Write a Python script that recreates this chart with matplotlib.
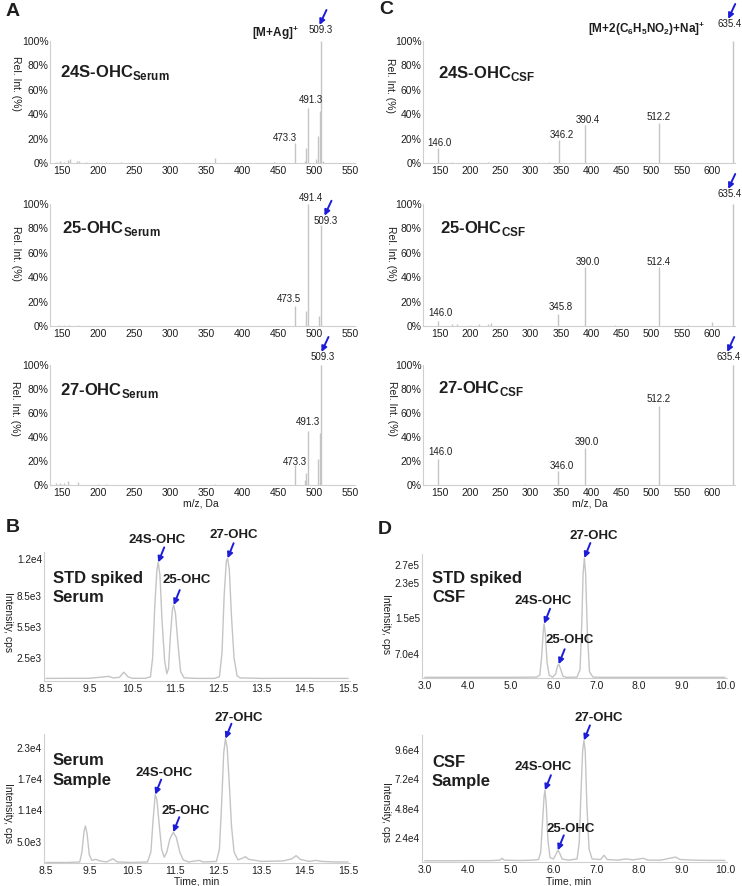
import matplotlib.pyplot as plt
from matplotlib.ticker import FuncFormatter, FixedFormatter

plt.rcParams['font.family'] = ['Liberation Sans', 'DejaVu Sans']
plt.rcParams['mathtext.fontset'] = 'custom'
plt.rcParams['mathtext.rm'] = 'Liberation Sans'
plt.rcParams['mathtext.bf'] = 'Liberation Sans:bold'

# ---------------- MS spectra (A, C): m/z and relative intensity (%) ----------------
mz_24s_serum = [142, 147, 152, 158, 161, 171, 174, 183, 198, 211, 232, 362, 445,
                473.3, 487.5, 489.5, 491.3, 503.3, 505.3, 507.8, 509.3, 512]
ri_24s_serum = [1.0, 1.5, 1.0, 2.5, 3.5, 1.5, 2.0, 1.0, 0.8, 1.0, 0.6, 4.0, 0.5,
                16, 2, 12, 45, 3, 22, 43, 100, 2]
lab_24s_serum = [473.3, 491.3, 509.3]

mz_25_serum = [145, 152, 160, 172, 473.5, 489.4, 491.4, 507.5, 509.3]
ri_25_serum = [1.0, 0.8, 1.2, 0.8, 16, 12, 100, 8, 83]
lab_25_serum = [473.5, 491.4, 509.3]

mz_27_serum = [142, 147, 153, 158, 172, 200, 211, 362, 473.3, 487.5, 489.5, 491.3,
               505.3, 507.8, 509.3]
ri_27_serum = [1.5, 2.0, 1.5, 3.0, 2.5, 1.0, 0.8, 1.0, 17, 4, 10, 45, 22, 43, 100]
lab_27_serum = [473.3, 491.3, 509.3]

mz_24s_csf = [146.0, 170, 230, 330, 346.2, 390.4, 512.2, 635.4]
ri_24s_csf = [12, 1, 1, 1, 19, 31, 33, 100]
lab_24s_csf = [146.0, 346.2, 390.4, 512.2, 635.4]

mz_25_csf = [146.0, 170, 178, 200, 215, 230, 235, 300, 345.8, 390.0, 440, 512.4,
             560, 600, 635.4]
ri_25_csf = [4, 2, 1.5, 1, 1.5, 2, 2.5, 1, 10, 48, 1, 48, 1, 3, 100]
lab_25_csf = [146.0, 345.8, 390.0, 512.4, 635.4]

mz_27_csf = [146.0, 290, 346.0, 390.0, 512.2, 635.4]
ri_27_csf = [22, 1, 12, 31, 66, 100]
lab_27_csf = [146.0, 346.0, 390.0, 512.2, 635.4]

# ---------------- chromatograms (B, D): time (min) and intensity (cps) ----------------
t_std_serum = [8.5, 9.0, 9.5, 9.85, 9.95, 10.05, 10.2, 10.3, 10.4, 10.5, 10.8, 10.92,
               10.97, 11.02, 11.07, 11.1, 11.14, 11.19, 11.25, 11.3, 11.34, 11.38, 11.43,
               11.46, 11.5, 11.56, 11.62, 11.7, 12.0, 12.4, 12.52, 12.58, 12.63, 12.68,
               12.71, 12.75, 12.8, 12.86, 12.93, 13.0, 13.5, 14.0, 14.5, 15.0, 15.5]
i_std_serum = [550, 560, 560, 700, 750, 600, 650, 1150, 700, 560, 560, 700,
               2500, 7500, 11000, 11700, 10500, 6000, 2200, 1000, 1500, 4500, 7200,
               7600, 6800, 3800, 1200, 600, 550, 550, 700, 3000, 8500, 11800,
               12100, 11000, 6500, 2500, 800, 600, 550, 560, 560, 550, 550]
pk_std_serum = [('24S-OHC', 11.1), ('25-OHC', 11.46), ('27-OHC', 12.71)]

t_serum = [8.5, 9.0, 9.28, 9.33, 9.38, 9.41, 9.45, 9.5, 9.56, 9.65, 9.75, 9.9, 10.05,
           10.15, 10.5, 10.85, 10.93, 10.98, 11.03, 11.07, 11.12, 11.18, 11.24, 11.3,
           11.37, 11.45, 11.52, 11.6, 11.68, 11.8, 12.05, 12.15, 12.45, 12.52, 12.57,
           12.62, 12.66, 12.7, 12.75, 12.8, 12.86, 12.95, 13.05, 13.12, 13.2, 13.5,
           14.0, 14.2, 14.3, 14.4, 14.6, 14.75, 14.9, 15.2, 15.5]
i_serum = [1000, 1000, 1100, 3000, 7000, 8000, 6500, 2500, 1400, 1600, 1300, 1100, 1700,
           1100, 1000, 1100, 3000, 9000, 14000, 13000, 8500, 3500, 2000, 3000,
           5500, 6800, 5800, 3000, 1500, 1100, 1400, 1100, 1200, 3500, 12000,
           22000, 24700, 23000, 16000, 8000, 3000, 1500, 1800, 2100, 1600, 1200,
           1300, 1700, 2300, 1600, 1200, 1400, 1200, 1100, 1100]
pk_serum = [('24S-OHC', 11.03), ('25-OHC', 11.45), ('27-OHC', 12.66)]

t_std_csf = [3.0, 4.0, 5.0, 5.6, 5.68, 5.72, 5.76, 5.78, 5.81, 5.85, 5.9, 5.98, 6.05,
             6.09, 6.12, 6.16, 6.22, 6.3, 6.55, 6.62, 6.66, 6.69, 6.72, 6.75, 6.79,
             6.84, 6.92, 7.1, 8.0, 9.0, 10.0]
i_std_csf = [17500, 17500, 17500, 18000, 22000, 60000, 120000, 138000, 115000, 50000,
             22000, 18000, 25000, 42000, 47000, 38000, 20000, 17500, 18000, 35000,
             140000, 250000, 286000, 250000, 120000, 30000, 18000, 17500, 17500,
             17500, 17500]
pk_std_csf = [('24S-OHC', 5.78), ('25-OHC', 6.12), ('27-OHC', 6.72)]

t_csf = [3.0, 3.5, 4.0, 4.5, 4.75, 4.8, 4.85, 5.2, 5.5, 5.65, 5.7, 5.74, 5.78, 5.8,
         5.83, 5.87, 5.92, 6.0, 6.06, 6.1, 6.14, 6.2, 6.35, 6.55, 6.6, 6.64, 6.68,
         6.71, 6.74, 6.78, 6.83, 6.9, 7.1, 7.18, 7.25, 7.5, 7.7, 7.85, 8.1, 8.2,
         8.5, 8.85, 8.95, 9.3, 9.7, 10.0]
i_csf = [5500, 5500, 5600, 5600, 6000, 7500, 6000, 5700, 6000, 6500, 12000, 35000,
         58000, 63000, 52000, 22000, 8000, 7000, 11000, 14000, 12000, 7000, 6000,
         7000, 20000, 60000, 95000, 103600, 95000, 50000, 15000, 7000, 6500, 10000,
         6500, 6000, 7000, 6200, 7500, 6000, 6000, 8500, 6500, 6000, 5800, 5800]
pk_csf = [('24S-OHC', 5.8), ('25-OHC', 6.1), ('27-OHC', 6.71)]

# axis ticks
ms_ticks_a = list(range(150, 551, 50))
ms_ticks_c = list(range(150, 601, 50))
rt_ticks_b = [8.5, 9.5, 10.5, 11.5, 12.5, 13.5, 14.5, 15.5]
rt_ticks_d = [3.0, 4.0, 5.0, 6.0, 7.0, 8.0, 9.0, 10.0]
yt_std_serum = [2500, 5500, 8500, 12000]
yl_std_serum = ['2.5e3', '5.5e3', '8.5e3', '1.2e4']
yt_serum = [5000, 11000, 17000, 23000]
yl_serum = ['5.0e3', '1.1e4', '1.7e4', '2.3e4']
yt_std_csf = [70000, 150000, 230000, 270000]
yl_std_csf = ['7.0e4', '1.5e5', '2.3e5', '2.7e5']
yt_csf = [24000, 48000, 72000, 96000]
yl_csf = ['2.4e4', '4.8e4', '7.2e4', '9.6e4']

TRACE = '#c4c4c4'
SPINE = '#cfcfcf'
INK = '#1e1e1e'
BLUE = '#1d1dd8'
ARROW = dict(arrowstyle='-|>', color=BLUE, lw=1.4, mutation_scale=8,
             shrinkA=0, shrinkB=0)
PX = 0.72  # points per pixel

W, H = 742, 886
fig = plt.figure(figsize=(W / 100, H / 100), dpi=100)


def px_axes(left, top, right, bottom):
    return fig.add_axes([left / W, 1 - bottom / H, (right - left) / W, (bottom - top) / H])


def ftext(x, y, s, **kw):
    kw.setdefault('color', INK)
    fig.text(x / W, 1 - y / H, s, **kw)


def style(ax, ypad):
    ax.set_facecolor('none')
    for side in ('top', 'right'):
        ax.spines[side].set_visible(False)
    for side in ('left', 'bottom'):
        ax.spines[side].set_color(SPINE)
        ax.spines[side].set_linewidth(0.8)
    ax.tick_params(length=0, labelsize=7.5, labelcolor=INK)
    ax.tick_params(axis='x', pad=2)
    ax.tick_params(axis='y', pad=ypad)


def spectrum(ax, mz, ri, labels, offsets, base, xlim, xticks):
    style(ax, 1)
    ax.vlines(mz, 0, ri, color=TRACE, lw=1)
    ax.set_xlim(*xlim)
    ax.set_ylim(0, 100)
    ax.set_xticks(xticks)
    ax.set_yticks(range(0, 101, 20))
    ax.yaxis.set_major_formatter(FuncFormatter(lambda v, p: f'{v:.0f}%'))
    for m, (dx, dy) in zip(labels, offsets):
        h = ri[mz.index(m)]
        t = ax.annotate(f'{m:.1f}', (m, h), xytext=(dx * PX, dy * PX),
                        textcoords='offset points', ha='center', va='bottom',
                        fontsize=7, color=INK, annotation_clip=False)
        if m == base:
            ax.annotate('', xy=(0.45, 1.0), xycoords=t, xytext=(7 * PX, 15 * PX),
                        textcoords='offset points', arrowprops=ARROW)


def chromatogram(ax, t, inten, peaks, offsets, xlim, ylim, xticks, yticks, ylabels):
    style(ax, 1.5)
    ax.plot(t, inten, color=TRACE, lw=1)
    ax.set_xlim(*xlim)
    ax.set_ylim(*ylim)
    ax.set_xticks(xticks)
    ax.xaxis.set_major_formatter(FuncFormatter(lambda v, p: f'{v:.1f}'))
    ax.set_yticks(yticks)
    ax.yaxis.set_major_formatter(FixedFormatter(ylabels))
    ax.tick_params(axis='y', labelsize=7.2)
    for (name, pt), (dx, dy) in zip(peaks, offsets):
        h = inten[t.index(pt)]
        ax.annotate(name, (pt, h), xytext=(dx * PX, dy * PX), textcoords='offset points',
                    ha='center', va='center', fontsize=9.5, fontweight='bold', color=INK)
        ax.annotate('', (pt, h), xytext=(6 * PX, 15 * PX), textcoords='offset points',
                    arrowprops=ARROW)


# ---------------- panel A ----------------
xl_a = (133, 557)
spectrum(px_axes(50, 41, 355, 163), mz_24s_serum, ri_24s_serum, lab_24s_serum,
         [(-10, 0), (3, 3), (0, 6)], 509.3, xl_a, ms_ticks_a)
spectrum(px_axes(50, 204, 355, 326), mz_25_serum, ri_25_serum, lab_25_serum,
         [(-6, 2), (3, 1), (5, -1)], 509.3, xl_a, ms_ticks_a)
spectrum(px_axes(50, 365, 355, 485), mz_27_serum, ri_27_serum, lab_27_serum,
         [(0, -2), (0, 4), (2, 3)], 509.3, xl_a, ms_ticks_a)

# ---------------- panel C ----------------
xl_c = (122, 638)
spectrum(px_axes(423, 41, 735, 163), mz_24s_csf, ri_24s_csf, lab_24s_csf,
         [(2, 0), (3, 0), (3, 0), (0, 1), (-4, 12)], 635.4, xl_c, ms_ticks_c)
spectrum(px_axes(423, 204, 735, 326), mz_25_csf, ri_25_csf, lab_25_csf,
         [(3, 3), (2, 2), (3, 0), (0, 0), (-4, 5)], 635.4, xl_c, ms_ticks_c)
spectrum(px_axes(423, 365, 735, 485), mz_27_csf, ri_27_csf, lab_27_csf,
         [(3, 2), (3, 0), (2, 1), (0, 2), (-5, 3)], 635.4, xl_c, ms_ticks_c)

# ---------------- panel B ----------------
chromatogram(px_axes(44, 552, 350, 681), t_std_serum, i_std_serum, pk_std_serum,
             [(-1, 22), (13, 25), (6, 23)], (8.45, 15.55), (300, 12700),
             rt_ticks_b, yt_std_serum, yl_std_serum)
chromatogram(px_axes(44, 734, 350, 863), t_serum, i_serum, pk_serum,
             [(9, 22), (12, 21), (13, 21)], (8.45, 15.55), (900, 25600),
             rt_ticks_b, yt_serum, yl_serum)

# ---------------- panel D ----------------
chromatogram(px_axes(422, 554, 727, 678), t_std_csf, i_std_csf, pk_std_csf,
             [(-1, 23), (11, 24), (9, 22)], (2.93, 10.05), (16000, 295000),
             rt_ticks_d, yt_std_csf, yl_std_csf)
chromatogram(px_axes(422, 735, 727, 862), t_csf, i_csf, pk_csf,
             [(-2, 23), (13, 21), (15, 22)], (2.93, 10.05), (4500, 108000),
             rt_ticks_d, yt_csf, yl_csf)

# ---------------- figure texts ----------------
for s, x, y in [('A', 13, 11), ('C', 386, 10), ('B', 13, 528), ('D', 385, 530)]:
    ftext(x, y, s, fontsize=14, fontweight='bold', ha='center', va='center')

for s, x, y in [(r'24S-OHC$_{\mathbf{Serum}}$', 60, 77), (r'25-OHC$_{\mathbf{Serum}}$', 62, 233),
                (r'27-OHC$_{\mathbf{Serum}}$', 60, 395), (r'24S-OHC$_{\mathbf{CSF}}$', 438, 78),
                (r'25-OHC$_{\mathbf{CSF}}$', 440, 233), (r'27-OHC$_{\mathbf{CSF}}$', 438, 393)]:
    ftext(x, y, s, fontsize=12, fontweight='bold', ha='left', va='baseline')

ftext(275, 33, r'[M+Ag]$^{\mathbf{+}}$', fontsize=8.5, fontweight='bold', ha='center', va='center')
ftext(647, 29, r'[M+2(C$_{\mathbf{6}}$H$_{\mathbf{5}}$NO$_{\mathbf{2}}$)+Na]$^{\mathbf{+}}$',
      fontsize=8.5, fontweight='bold', ha='center', va='center')

for x, y in [(16, 84), (16, 253), (15, 408), (390, 85), (391, 254), (392, 408)]:
    ftext(x, y, 'Rel. Int. (%)', fontsize=7.5, rotation=270, ha='center', va='center')
for x, y in [(8, 622), (8, 813), (386, 624), (386, 812)]:
    ftext(x, y, 'Intensity, cps', fontsize=7.5, rotation=270, ha='center', va='center')

ftext(201, 504, 'm/z, Da', fontsize=7.5, ha='center', va='center')
ftext(590, 504, 'm/z, Da', fontsize=7.5, ha='center', va='center')
ftext(197, 881, 'Time, min', fontsize=7.5, ha='center', va='center')
ftext(569, 881, 'Time, min', fontsize=7.5, ha='center', va='center')

for lines, x in [((('STD spiked', 583), ('Serum', 602)), 53),
                 ((('Serum', 765), ('Sample', 785)), 53),
                 ((('STD spiked', 583), ('CSF', 602)), 432),
                 ((('CSF', 767), ('Sample', 786)), 432)]:
    for s, y in lines:
        ftext(x, y, s, fontsize=12, fontweight='bold', ha='left', va='baseline')

fig.savefig('out.png', dpi=100)
